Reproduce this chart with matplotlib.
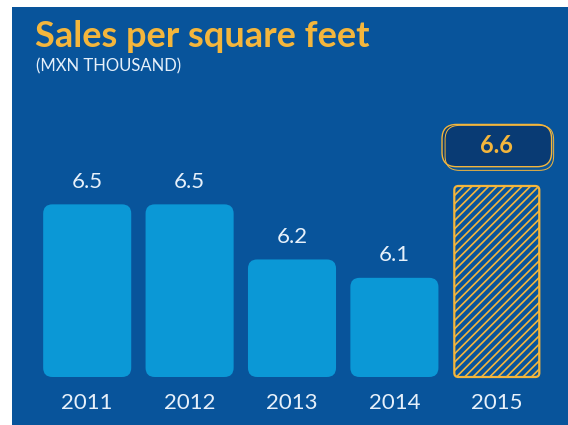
import numpy as np
import matplotlib
matplotlib.use("Agg")
import matplotlib.pyplot as plt
from matplotlib.patches import FancyBboxPatch, Rectangle

years = ["2011", "2012", "2013", "2014", "2015"]
sales = [6.5, 6.5, 6.2, 6.1, 6.6]
title = "Sales per square feet"
subtitle = "(MXN THOUSAND)"

BG = "#08549b"
BAR = "#0b98d6"
GOLD = "#f4b63c"
NAVY = "#093b74"
TXT = "#e6f0fa"

plt.rcParams["font.family"] = ["Lato", "DejaVu Sans"]
plt.rcParams["hatch.linewidth"] = 1.2

W, H = 568, 425
fig = plt.figure(figsize=(W / 100, H / 100), dpi=100)
fig.patch.set_facecolor("white")

# blue panel behind everything
fig.patches.append(Rectangle((12 / W, 0), 1 - 12 / W, (H - 7) / H,
                             transform=fig.transFigure, fc=BG, ec="none", zorder=-1))

fig.text(35 / W, (H - 47) / H, title, color=GOLD, fontsize=26, fontweight="bold",
         ha="left", va="baseline")
fig.text(36 / W, (H - 71) / H, subtitle, color=TXT, fontsize=12,
         ha="left", va="baseline")

# axes in pixel placement
left, right = 36, 548
bottom, top = 377, 107
ax = fig.add_axes([left / W, (H - bottom) / H, (right - left) / W, (bottom - top) / H])
ax.set_facecolor("none")
ymin, ymax = 5.56, 7.03
ax.set_xlim(-0.5, len(years) - 0.5)
ax.set_ylim(ymin, ymax)
ax.axis("off")

xunit = (right - left) / len(years)
yunit = (bottom - top) / (ymax - ymin)
aspect = xunit / yunit

for i, (yr, v) in enumerate(zip(years, sales)):
    last = i == len(years) - 1
    w = 0.83 if last else 0.86
    if last:
        p = FancyBboxPatch((i - w / 2, ymin), w, v - ymin,
                           boxstyle="round,pad=0,rounding_size=0.04",
                           mutation_aspect=aspect, fc=BG, ec=GOLD, lw=1.6,
                           hatch="////", clip_on=False, zorder=2)
        ax.add_patch(p)
        # label box above the highlighted bar, with a sketchy double outline
        bx, by = i, v + 0.22
        bw, bh = 1.07, 0.23
        box = FancyBboxPatch((bx - bw / 2, by - bh / 2), bw, bh,
                             boxstyle="round,pad=0,rounding_size=0.14",
                             mutation_aspect=aspect, fc=NAVY, ec=GOLD, lw=1.0,
                             clip_on=False, zorder=3)
        ax.add_patch(box)
        box2 = FancyBboxPatch((bx - bw / 2 + 0.03, by - bh / 2 - 0.02), bw - 0.01, bh + 0.015,
                              boxstyle="round,pad=0,rounding_size=0.14",
                              mutation_aspect=aspect, fc="none", ec=GOLD, lw=0.7,
                              clip_on=False, zorder=3)
        ax.add_patch(box2)
        ax.text(bx, by, f"{v:.1f}", color=GOLD, fontsize=17, fontweight="bold",
                ha="center", va="center", zorder=4)
    else:
        p = FancyBboxPatch((i - w / 2, ymin), w, v - ymin,
                           boxstyle="round,pad=0,rounding_size=0.09",
                           mutation_aspect=aspect, fc=BAR, ec="none",
                           clip_on=False, zorder=2)
        ax.add_patch(p)
        ax.annotate(f"{v:.1f}", (i, v), xytext=(0, 9), textcoords="offset points",
                    ha="center", va="bottom", color=TXT, fontsize=16)
    ax.text(i, ymin - 16 / yunit, yr, ha="center", va="top",
            color=TXT, fontsize=16)

fig.savefig("out.png", dpi=100, facecolor=fig.get_facecolor())
